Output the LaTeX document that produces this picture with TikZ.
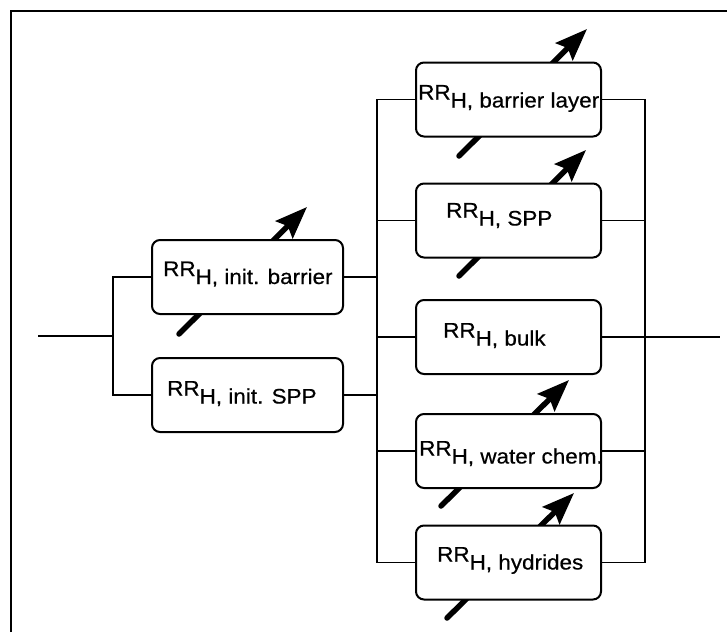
\documentclass[tikz,border=0pt]{standalone}
\usepackage{fontspec}
\setmainfont[FakeBold=0.5]{Liberation Sans}
\usetikzlibrary{arrows.meta}
\newcommand\rrtext[1]{\scalebox{1.07}[1]{RR\raisebox{-8pt}{#1}}}
\begin{document}
\begin{tikzpicture}[x=1pt,y=-1pt,
  box/.style={draw,line width=2pt,rounded corners=8pt,fill=white,minimum width=191pt,minimum height=74pt,inner sep=0pt},
  rbox/.style={box,minimum width=185pt},
  wire/.style={line width=1.8pt},
  lbl/.style={anchor=base west,inner sep=0pt,font=\fontsize{21}{25}\selectfont},
  bigarrow/.style={line width=5.5pt,line cap=round,-{Stealth[length=32pt,width=24pt,inset=5pt]}}]
\useasboundingbox (0,0) rectangle (727,632);
% frame
\coordinate (fbl) at (11,632);
\coordinate (ftl) at (11,10.5);
\coordinate (ftr) at (727,10.5);
\draw[line width=2pt] (fbl) -- (ftl) -- (ftr);
% arrows (drawn first, boxes cover their middle)
\coordinate (a1s) at (179,334); \coordinate (a1e) at (307,207);
\coordinate (a2s) at (459,156); \coordinate (a2e) at (587,29);
\coordinate (a3s) at (459,276); \coordinate (a3e) at (586,150);
\coordinate (a4s) at (441,506); \coordinate (a4e) at (569,380);
\coordinate (a5s) at (447,618); \coordinate (a5e) at (574,493);
\draw[bigarrow] (a1s) -- (a1e);
\draw[bigarrow] (a2s) -- (a2e);
\draw[bigarrow] (a3s) -- (a3e);
\draw[bigarrow] (a4s) -- (a4e);
\draw[bigarrow] (a5s) -- (a5e);
% boxes
\node[box] (b1) at (247.5,277) {};
\node[box] (b2) at (247.5,395) {};
\node[rbox] (r1) at (508.5,99.5) {};
\node[rbox] (r2) at (508.5,220.5) {};
\node[rbox] (r3) at (508.5,337) {};
\node[rbox] (r4) at (508.5,451) {};
\node[rbox] (r5) at (508.5,562.5) {};
% labels
\node[lbl] (t1) at (163,276) {\rrtext{H, init. barrier}};
\node[lbl] (t2) at (167,395.5) {\rrtext{H, init. SPP}};
\node[lbl] (t3) at (418,99.5) {\rrtext{H, barrier layer}};
\node[lbl] (t4) at (446,217.5) {\rrtext{H, SPP}};
\node[lbl] (t5) at (443,337.5) {\rrtext{H, bulk}};
\node[lbl] (t6) at (419,455.5) {\rrtext{H, water chem.}};
\node[lbl] (t7) at (437,561.5) {\rrtext{H, hydrides}};
% wiring
\coordinate (in) at (38,336);
\coordinate (j1) at (113,336);
\coordinate (bl) at (377,337);
\coordinate (br) at (645,337);
\coordinate (out) at (720,337);
\draw[wire] (in) -- (j1);
\draw[wire] (b1.west) -| (j1) |- (b2.west);
\draw[wire] (b1.east) -- (b1.east -| bl);
\draw[wire] (b2.east) -- (b2.east -| bl);
\draw[wire] (r1.west) -| (bl) |- (r5.west);
\draw[wire] (r2.west) -- (r2.west -| bl);
\draw[wire] (r3.west) -- (r3.west -| bl);
\draw[wire] (r4.west) -- (r4.west -| bl);
\draw[wire] (r1.east) -| (br) |- (r5.east);
\draw[wire] (r2.east) -- (r2.east -| br);
\draw[wire] (r4.east) -- (r4.east -| br);
\draw[wire] (r3.east) -- (out);
\end{tikzpicture}
\end{document}
